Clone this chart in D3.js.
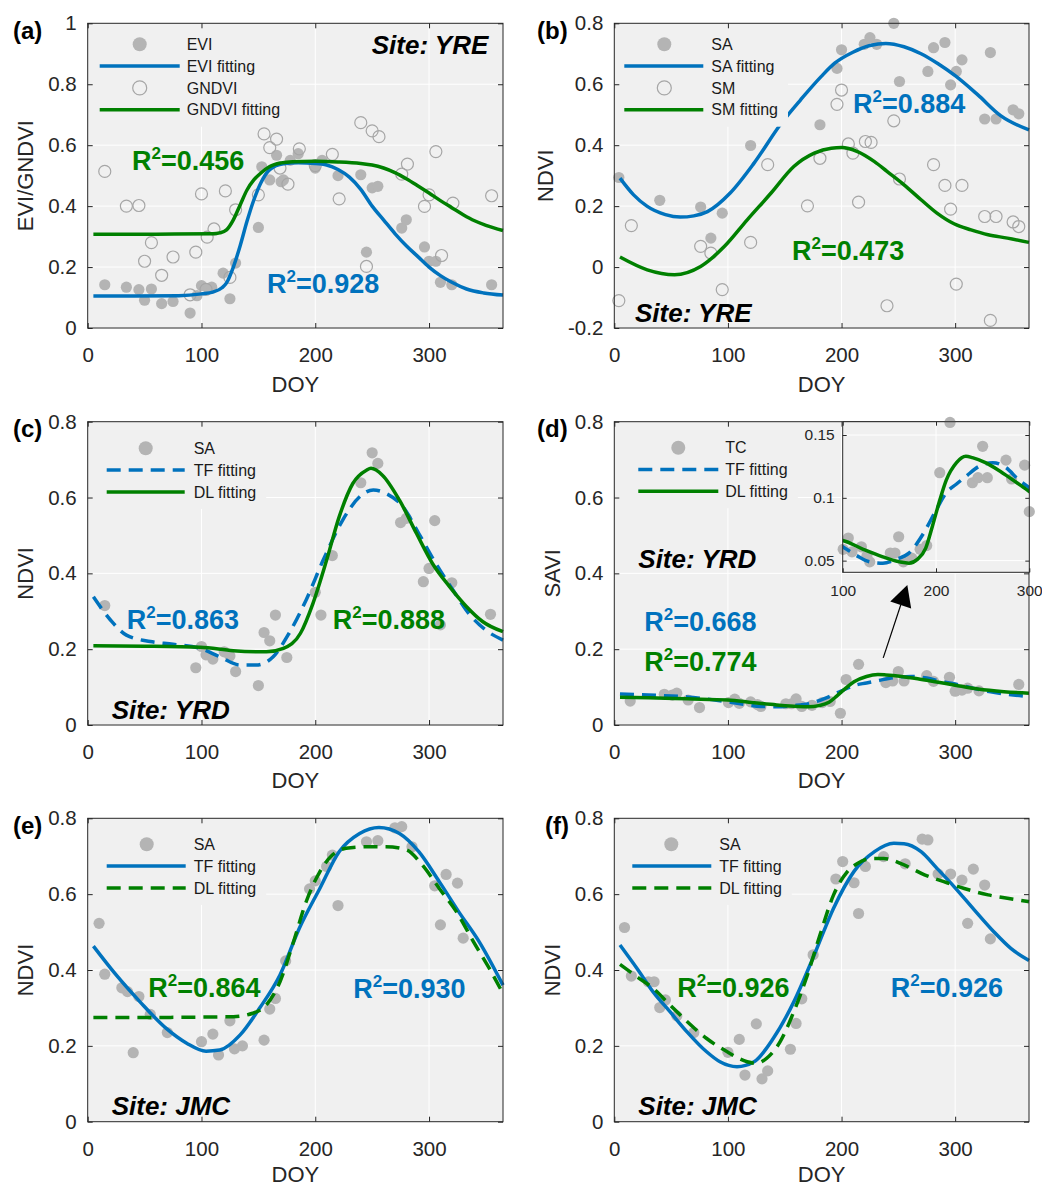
<!DOCTYPE html>
<html><head><meta charset="utf-8">
<script src="https://cdn.jsdelivr.net/npm/d3@7"></script>
<style>
body{margin:0;background:#fff}
svg text{font-family:"Liberation Sans",Arial,Helvetica,sans-serif}
</style>
</head><body>
<svg id="chart" width="1042" height="1188"></svg>
<script>
// ---------------- DATA ----------------
const doyTicks = [0,100,200,300];
const yTicksA = [0,0.2,0.4,0.6,0.8,1];
const yTicksB = [-0.2,0,0.2,0.4,0.6,0.8];
const yTicks08 = [0,0.2,0.4,0.6,0.8];
const insetXTicks = [100,200,300];
const insetYTicks = [0.05,0.1,0.15];

// (a) Site YRE: EVI & GNDVI
const eviA = [[15,0.142],[34,0.134],[45,0.126],[50,0.091],[56,0.128],[65,0.080],[75,0.087],[90,0.049],[96,0.106],[100,0.139],[106,0.13],[109,0.134],[119,0.18],[125,0.096],[130,0.213],[150,0.33],[153,0.529],[160,0.486],[166,0.567],[170,0.48],[172,0.486],[178,0.55],[185,0.572],[200,0.525],[206,0.55],[220,0.5],[240,0.503],[245,0.249],[250,0.46],[255,0.465],[276,0.328],[280,0.355],[296,0.266],[300,0.219],[306,0.219],[310,0.15],[320,0.142],[355,0.142]];
const gndviA = [[15,0.514],[34,0.40],[45,0.402],[50,0.219],[56,0.28],[65,0.173],[75,0.233],[90,0.109],[95,0.249],[100,0.44],[104,0.127],[105,0.298],[111,0.325],[121,0.45],[125,0.166],[130,0.388],[150,0.437],[155,0.637],[160,0.592],[166,0.62],[169,0.525],[176,0.472],[186,0.588],[200,0.533],[215,0.57],[221,0.424],[240,0.674],[245,0.202],[250,0.647],[256,0.628],[276,0.505],[281,0.538],[296,0.399],[300,0.437],[306,0.579],[311,0.238],[321,0.41],[355,0.434]];
const eviFitA = [[5,0.105],[40,0.105],[80,0.106],[100,0.112],[110,0.118],[118,0.132],[122,0.148],[128,0.2],[134,0.27],[140,0.35],[146,0.42],[152,0.475],[160,0.52],[172,0.539],[185,0.542],[200,0.54],[210,0.535],[220,0.52],[230,0.495],[240,0.455],[250,0.40],[260,0.355],[270,0.31],[280,0.27],[290,0.235],[300,0.20],[310,0.172],[320,0.15],[333,0.128],[348,0.115],[365,0.108]];
const gndviFitA = [[5,0.308],[60,0.308],[110,0.309],[116,0.312],[122,0.322],[128,0.355],[134,0.404],[140,0.453],[146,0.486],[152,0.508],[160,0.53],[170,0.542],[180,0.546],[200,0.547],[220,0.545],[240,0.54],[250,0.535],[260,0.525],[270,0.51],[280,0.49],[290,0.467],[300,0.443],[310,0.418],[320,0.395],[330,0.372],[340,0.352],[350,0.337],[365,0.32]];
const r2A = ["0.456","0.928"];

// (b) Site YRE: SA & SM NDVI
const saB = [[4,0.294],[40,0.219],[76,0.197],[85,0.095],[95,0.177],[120,0.399],[181,0.467],[196,0.652],[200,0.713],[220,0.731],[225,0.753],[231,0.731],[246,0.80],[251,0.609],[276,0.642],[281,0.72],[291,0.737],[296,0.598],[301,0.642],[306,0.68],[326,0.486],[331,0.704],[336,0.486],[351,0.516],[356,0.503]];
const smB = [[4,-0.110],[15,0.136],[76,0.068],[85,0.046],[95,-0.074],[120,0.081],[135,0.336],[170,0.201],[181,0.357],[196,0.534],[200,0.581],[206,0.404],[210,0.374],[215,0.213],[221,0.412],[226,0.409],[240,-0.127],[246,0.48],[251,0.289],[281,0.336],[291,0.268],[296,0.19],[301,-0.056],[306,0.268],[326,0.166],[331,-0.175],[336,0.166],[351,0.148],[356,0.133]];
const saFitB = [[5,0.292],[17,0.237],[29,0.199],[45,0.172],[58,0.164],[70,0.168],[82,0.182],[102,0.243],[123,0.341],[147,0.472],[164,0.549],[182,0.625],[194,0.669],[210,0.705],[225,0.727],[239,0.734],[255,0.723],[270,0.7],[285,0.667],[300,0.628],[320,0.565],[340,0.497],[365,0.45]];
const smFitB = [[5,0.033],[29,-0.009],[53,-0.025],[76,0.002],[97,0.068],[117,0.155],[138,0.243],[158,0.33],[176,0.374],[191,0.39],[200,0.392],[214,0.379],[229,0.346],[240,0.314],[255,0.27],[270,0.221],[284,0.177],[299,0.142],[314,0.122],[329,0.106],[346,0.095],[365,0.081]];
const r2B = ["0.884","0.473"];

// (c) Site YRD: SA NDVI
const saC = [[15,0.315],[95,0.151],[100,0.207],[104,0.185],[110,0.174],[120,0.193],[125,0.182],[130,0.141],[150,0.104],[155,0.244],[160,0.222],[165,0.29],[175,0.178],[200,0.35],[205,0.29],[215,0.447],[240,0.639],[250,0.718],[255,0.69],[275,0.534],[280,0.545],[295,0.378],[300,0.413],[305,0.539],[310,0.264],[320,0.375],[354,0.292]];
const tfFitC = [[5,0.338],[20,0.277],[34,0.237],[55,0.22],[75,0.213],[99,0.202],[116,0.18],[134,0.158],[148,0.158],[163,0.18],[177,0.242],[192,0.33],[207,0.435],[224,0.54],[239,0.602],[251,0.62],[262,0.611],[277,0.576],[291,0.505],[306,0.426],[321,0.356],[335,0.294],[350,0.25],[365,0.224]];
const dlFitC = [[5,0.209],[50,0.208],[99,0.205],[128,0.196],[157,0.193],[172,0.202],[187,0.242],[198,0.321],[210,0.435],[221,0.549],[233,0.637],[245,0.672],[249,0.677],[259,0.659],[274,0.593],[289,0.505],[303,0.426],[318,0.365],[333,0.312],[347,0.273],[365,0.246]];
const r2C = ["0.863","0.888"];

// (d) Site YRD: TC SAVI
const tcD = [[14,0.063],[44,0.081],[51,0.079],[55,0.084],[65,0.066],[75,0.046],[100.5,0.059],[106,0.068],[110,0.057],[120,0.061],[126,0.054],[129,0.049],[151,0.056],[156,0.056],[160,0.069],[165,0.049],[174,0.052],[183,0.059],[190,0.062],[199,0.031],[204,0.120],[215,0.160],[239,0.112],[245,0.116],[250,0.141],[255,0.116],[275,0.130],[281,0.115],[295,0.126],[300,0.089],[306,0.092],[311,0.097],[321,0.09],[356,0.107]];
const tfFitD = [[5,0.082],[30,0.079],[64,0.074],[100,0.061],[115,0.054],[129,0.049],[143,0.048],[157,0.051],[171,0.056],[186,0.071],[200,0.09],[211,0.104],[222,0.111],[232,0.117],[246,0.125],[261,0.128],[275,0.124],[289,0.114],[300,0.108],[330,0.088],[365,0.075]];
const dlFitD = [[5,0.073],[30,0.072],[64,0.069],[100,0.066],[122,0.059],[143,0.053],[161,0.049],[171,0.048],[180,0.051],[189,0.06],[196,0.077],[204,0.098],[211,0.114],[222,0.128],[232,0.133],[239,0.132],[253,0.128],[267,0.122],[281,0.115],[300,0.105],[320,0.095],[343,0.088],[365,0.084]];
const r2D = ["0.668","0.774"];

// (e) Site JMC: SA NDVI
const saE = [[10,0.523],[15,0.389],[30,0.353],[35,0.343],[40,0.182],[45,0.33],[55,0.283],[70,0.235],[100,0.211],[110,0.231],[115,0.176],[125,0.266],[129,0.192],[136,0.2],[155,0.215],[160,0.297],[165,0.325],[174,0.424],[195,0.614],[200,0.635],[210,0.673],[215,0.703],[220,0.57],[245,0.738],[255,0.741],[270,0.775],[276,0.778],[285,0.725],[305,0.622],[310,0.519],[315,0.652],[325,0.629],[330,0.484]];
const tfFitE = [[5,0.463],[25,0.387],[46,0.316],[69,0.246],[87,0.207],[104,0.186],[116,0.189],[134,0.229],[151,0.299],[169,0.387],[186,0.51],[204,0.615],[221,0.712],[239,0.76],[256,0.776],[274,0.76],[291,0.712],[309,0.633],[326,0.554],[344,0.475],[365,0.36]];
const dlFitE = [[5,0.275],[60,0.275],[128,0.277],[145,0.286],[157,0.308],[169,0.369],[180,0.466],[192,0.58],[204,0.659],[215,0.703],[227,0.721],[245,0.725],[262,0.725],[280,0.717],[294,0.677],[309,0.615],[324,0.554],[339,0.475],[353,0.404],[365,0.338]];
const r2E = ["0.864","0.930"];

// (f) Site JMC: SA NDVI
const saF = [[9,0.512],[15,0.384],[30,0.369],[35,0.369],[40,0.301],[45,0.321],[55,0.279],[70,0.235],[100,0.183],[110,0.217],[115,0.123],[125,0.258],[130,0.113],[135,0.134],[155,0.191],[160,0.259],[165,0.324],[175,0.44],[195,0.64],[201,0.686],[211,0.63],[215,0.549],[221,0.673],[237,0.699],[256,0.68],[271,0.745],[276,0.743],[285,0.653],[296,0.653],[306,0.637],[311,0.523],[316,0.666],[326,0.624],[331,0.482]];
const tfFitF = [[5,0.466],[20,0.404],[34,0.343],[49,0.29],[64,0.237],[81,0.185],[93,0.158],[108,0.145],[123,0.158],[140,0.22],[158,0.316],[176,0.44],[193,0.563],[211,0.66],[229,0.712],[246,0.734],[255,0.733],[270,0.712],[284,0.668],[299,0.62],[317,0.558],[334,0.501],[349,0.457],[365,0.425]];
const dlFitF = [[5,0.415],[20,0.382],[34,0.352],[49,0.308],[64,0.264],[81,0.22],[99,0.185],[117,0.158],[125,0.154],[134,0.167],[146,0.211],[158,0.29],[170,0.387],[181,0.492],[193,0.598],[205,0.659],[214,0.681],[226,0.694],[237,0.694],[255,0.677],[273,0.651],[290,0.633],[308,0.615],[329,0.598],[346,0.589],[365,0.58]];
const r2F = ["0.926","0.926"];

// ---------------- STYLE ----------------
const C = {bg:"#f0f0f0", grid:"#ffffff", axis:"#262626", blue:"#0072bd", green:"#008000",
           dot:"#b4b4b4", ring:"#a6a6a6", text:"#1a1a1a"};
const DASH = "14,8";
const svg = d3.select("#chart");
const fmt = d => String(Math.round(d*100)/100);

const L = {x0:87.7, x1:503}, R = {x0:614.3, x1:1029};
const ROW = [{y0:23.3,y1:328,xt:63.5},{y0:421.7,y1:725,xt:63},{y0:818.3,y1:1121.7,xt:60.5}];

const panels = [
 {col:L,row:ROW[0],yDomain:[0,1],yTicks:yTicksA,yTitle:"EVI/GNDVI",yTitleX:25,tag:"(a)",tagX:13,tagY:39,
  pts:[{d:eviA,t:"dot"},{d:gndviA,t:"ring"}],
  fits:[{d:eviFitA,c:C.blue},{d:gndviFitA,c:C.green}],
  leg:{first:21,items:[{t:"dot",l:"EVI"},{t:"line",c:C.blue,l:"EVI fitting"},{t:"ring",l:"GNDVI"},{t:"line",c:C.green,l:"GNDVI fitting"}],mx:52,lx:[12,92],tx:99},
  site:{s:"Site: YRE",x:488.3,y:54.3,a:"end"},
  r2:[{v:r2A[0],c:C.green,x:132,y:170},{v:r2A[1],c:C.blue,x:267,y:293}]},
 {col:R,row:ROW[0],yDomain:[-0.2,0.8],yTicks:yTicksB,yTitle:"NDVI",yTitleX:545,tag:"(b)",tagX:537,tagY:39,
  pts:[{d:saB,t:"dot"},{d:smB,t:"ring"}],
  fits:[{d:saFitB,c:C.blue},{d:smFitB,c:C.green}],
  leg:{first:21,items:[{t:"dot",l:"SA"},{t:"line",c:C.blue,l:"SA fitting"},{t:"ring",l:"SM"},{t:"line",c:C.green,l:"SM fitting"}],mx:50,lx:[10,89],tx:97},
  site:{s:"Site: YRE",x:635,y:321.7,a:"start"},
  r2:[{v:r2B[0],c:C.blue,x:853,y:113},{v:r2B[1],c:C.green,x:792,y:260}]},
 {col:L,row:ROW[1],yDomain:[0,0.8],yTicks:yTicks08,yTitle:"NDVI",yTitleX:25,tag:"(c)",tagX:13,tagY:437,
  pts:[{d:saC,t:"dot"}],
  fits:[{d:tfFitC,c:C.blue,dash:true},{d:dlFitC,c:C.green}],
  leg:{first:26.6,items:[{t:"dot",l:"SA"},{t:"line",c:C.blue,dash:true,l:"TF fitting"},{t:"line",c:C.green,l:"DL fitting"}],mx:58,lx:[19,97],tx:106},
  site:{s:"Site: YRD",x:111.7,y:719,a:"start"},
  r2:[{v:r2C[0],c:C.blue,x:126.7,y:629.3},{v:r2C[1],c:C.green,x:332.7,y:629.3}]},
 {col:R,row:ROW[1],yDomain:[0,0.8],yTicks:yTicks08,yTitle:"SAVI",yTitleX:552,tag:"(d)",tagX:537,tagY:437,
  pts:[{d:tcD,t:"dot"}],
  fits:[{d:tfFitD,c:C.blue,dash:true},{d:dlFitD,c:C.green}],
  leg:{first:26,items:[{t:"dot",l:"TC"},{t:"line",c:C.blue,dash:true,l:"TF fitting"},{t:"line",c:C.green,l:"DL fitting"}],mx:64,lx:[24,104],tx:111},
  site:{s:"Site: YRD",x:638.3,y:568.3,a:"start"},
  r2:[{v:r2D[0],c:C.blue,x:644.3,y:631},{v:r2D[1],c:C.green,x:644.3,y:670.7}],
  inset:true},
 {col:L,row:ROW[2],yDomain:[0,0.8],yTicks:yTicks08,yTitle:"NDVI",yTitleX:25,tag:"(e)",tagX:13,tagY:834,
  pts:[{d:saE,t:"dot"}],
  fits:[{d:tfFitE,c:C.blue},{d:dlFitE,c:C.green,dash:true}],
  leg:{first:26,items:[{t:"dot",l:"SA"},{t:"line",c:C.blue,l:"TF fitting"},{t:"line",c:C.green,dash:true,l:"DL fitting"}],mx:59,lx:[19,98],tx:106},
  site:{s:"Site: JMC",x:111.7,y:1115,a:"start"},
  r2:[{v:r2E[0],c:C.green,x:148.3,y:996.7},{v:r2E[1],c:C.blue,x:353.3,y:998.3}]},
 {col:R,row:ROW[2],yDomain:[0,0.8],yTicks:yTicks08,yTitle:"NDVI",yTitleX:552,tag:"(f)",tagX:545,tagY:834,
  pts:[{d:saF,t:"dot"}],
  fits:[{d:tfFitF,c:C.blue},{d:dlFitF,c:C.green,dash:true}],
  leg:{first:26,items:[{t:"dot",l:"SA"},{t:"line",c:C.blue,l:"TF fitting"},{t:"line",c:C.green,dash:true,l:"DL fitting"}],mx:57,lx:[18,97],tx:105},
  site:{s:"Site: JMC",x:638.3,y:1115,a:"start"},
  r2:[{v:r2F[0],c:C.green,x:677.3,y:997.3},{v:r2F[1],c:C.blue,x:890.7,y:997.3}]}
];

const lineGen = (x,y) => d3.line().x(d=>x(d[0])).y(d=>y(d[1])).curve(d3.curveMonotoneX);

function drawPoints(g, data, type, x, y, r){
  g.append("g").selectAll("circle").data(data).join("circle")
    .attr("cx",d=>x(d[0])).attr("cy",d=>y(d[1])).attr("r",r)
    .attr("fill", type==="dot" ? C.dot : "none")
    .attr("stroke", type==="dot" ? "none" : C.ring)
    .attr("stroke-width",1.2);
}

function drawAxes(g, x, y, xt, yt, x0,x1,y0,y1, fs, pad, tl){
  const st = sel => { sel.select(".domain").remove();
    sel.selectAll("line").attr("stroke",C.axis);
    sel.selectAll("text").attr("fill",C.axis).style("font-size",fs+"px"); };
  g.append("g").attr("transform",`translate(0,${y1})`)
    .call(d3.axisBottom(x).tickValues(xt).tickSize(-tl).tickSizeOuter(0).tickPadding(pad[0]).tickFormat(d=>d)).call(st);
  g.append("g").attr("transform",`translate(0,${y0})`)
    .call(d3.axisTop(x).tickValues(xt).tickSize(-tl).tickSizeOuter(0).tickFormat("")).call(st);
  g.append("g").attr("transform",`translate(${x0},0)`)
    .call(d3.axisLeft(y).tickValues(yt).tickSize(-tl).tickSizeOuter(0).tickPadding(pad[1]).tickFormat(fmt)).call(st);
  g.append("g").attr("transform",`translate(${x1},0)`)
    .call(d3.axisRight(y).tickValues(yt).tickSize(-tl).tickSizeOuter(0).tickFormat("")).call(st);
  g.append("rect").attr("x",x0).attr("y",y0).attr("width",x1-x0).attr("height",y1-y0)
    .attr("fill","none").attr("stroke",C.axis).attr("stroke-width",1);
}

function drawBackground(g, x, y, xt, yt, x0,x1,y0,y1){
  g.append("rect").attr("x",x0).attr("y",y0).attr("width",x1-x0).attr("height",y1-y0).attr("fill",C.bg);
  g.append("g").selectAll("line").data(xt).join("line")
    .attr("x1",d=>x(d)).attr("x2",d=>x(d)).attr("y1",y0).attr("y2",y1)
    .attr("stroke",C.grid).attr("stroke-width",1);
  g.append("g").selectAll("line").data(yt).join("line")
    .attr("x1",x0).attr("x2",x1).attr("y1",d=>y(d)).attr("y2",d=>y(d))
    .attr("stroke",C.grid).attr("stroke-width",1);
}

function r2Text(g, o){
  const t = g.append("text").attr("x",o.x).attr("y",o.y).attr("fill",o.c)
    .style("font-size","27px").style("font-weight","bold");
  t.append("tspan").text("R");
  t.append("tspan").text("2").attr("dy",-11).style("font-size","17px");
  t.append("tspan").text("="+o.v).attr("dy",11);
}

panels.forEach((p,i)=>{
  const x0=p.col.x0, x1=p.col.x1, y0=p.row.y0, y1=p.row.y1;
  const x = d3.scaleLinear().domain([0,365]).range([x0,x1]);
  const y = d3.scaleLinear().domain(p.yDomain).range([y1,y0]);
  const g = svg.append("g");
  drawBackground(g,x,y,doyTicks,p.yTicks,x0,x1,y0,y1);

  p.pts.forEach(s=>drawPoints(g,s.d,s.t,x,y,s.t==="dot"?5.6:6));
  const lg = lineGen(x,y);
  p.fits.forEach(f=>{
    g.append("path").datum(f.d).attr("d",lg).attr("fill","none").attr("stroke",f.c)
      .attr("stroke-width",3.5).attr("stroke-dasharray",f.dash?DASH:null);
  });

  // legend (opaque box with axes colour)
  const legBox = g.append("rect").attr("fill",C.bg);
  const lgG = g.append("g");
  let maxR = 0;
  p.leg.items.forEach((it,k)=>{
    const cy = y0 + p.leg.first + k*21.8;
    if(it.t==="dot"||it.t==="ring"){
      lgG.append("circle").attr("cx",x0+p.leg.mx).attr("cy",cy).attr("r",7)
        .attr("fill",it.t==="dot"?C.dot:"none").attr("stroke",it.t==="dot"?"none":C.ring).attr("stroke-width",1.2);
    } else {
      lgG.append("line").attr("x1",x0+p.leg.lx[0]).attr("x2",x0+p.leg.lx[1]).attr("y1",cy).attr("y2",cy)
        .attr("stroke",it.c).attr("stroke-width",3.5).attr("stroke-dasharray",it.dash?DASH:null);
    }
    const t = lgG.append("text").attr("x",x0+p.leg.tx).attr("y",cy).attr("dy","0.35em")
      .attr("fill",C.text).style("font-size","16px").text(it.l);
    const b = t.node().getBBox(); maxR = Math.max(maxR, b.x+b.width);
  });
  const lastY = y0 + p.leg.first + (p.leg.items.length-1)*21.8;
  legBox.attr("x",x0+1).attr("y",y0+1).attr("width",maxR+9-x0).attr("height",lastY+16-y0);

  // texts
  g.append("text").attr("x",p.site.x).attr("y",p.site.y).attr("text-anchor",p.site.a)
    .attr("fill","#000").style("font-size","26px").style("font-weight","bold").style("font-style","italic").text(p.site.s);
  p.r2.forEach(o=>r2Text(g,o));

  drawAxes(g,x,y,doyTicks,p.yTicks,x0,x1,y0,y1,20.5,[19.5,11],5);

  // axis titles
  g.append("text").attr("x",(x0+x1)/2).attr("y",y1+p.row.xt).attr("text-anchor","middle")
    .attr("fill",C.axis).style("font-size","22px").text("DOY");
  g.append("text").attr("transform",`translate(${p.yTitleX},${(y0+y1)/2}) rotate(-90)`)
    .attr("text-anchor","middle").attr("dy","0.35em")
    .attr("fill",C.axis).style("font-size","22px").text(p.yTitle);
  g.append("text").attr("x",p.tagX).attr("y",p.tagY).attr("fill","#000")
    .style("font-size","24px").style("font-weight","bold").text(p.tag);

  if(p.inset){
    // arrow from curve to inset
    const s = [x(236.7), y(0.177)], tp = [x(257.9), y(0.369)];
    const dx = tp[0]-s[0], dy = tp[1]-s[1], len = Math.hypot(dx,dy);
    const ux = dx/len, uy = dy/len, hl = 21, hw = 11;
    const bx = tp[0]-ux*hl, by = tp[1]-uy*hl;
    g.append("line").attr("x1",s[0]).attr("y1",s[1]).attr("x2",bx).attr("y2",by)
      .attr("stroke","#000").attr("stroke-width",1.2);
    g.append("path").attr("d",`M${tp[0]},${tp[1]}L${bx-uy*hw},${by+ux*hw}L${bx+uy*hw},${by-ux*hw}Z`).attr("fill","#000");

    const ix0=842.7, ix1=1029.3, iy0=421.7, iy1=572.3;
    const ixs = d3.scaleLinear().domain([100,300]).range([ix0,ix1]);
    const iys = d3.scaleLinear().domain([0.0407,0.1606]).range([iy1,iy0]);
    const ig = svg.append("g");
    drawBackground(ig,ixs,iys,insetXTicks,insetYTicks,ix0,ix1,iy0,iy1);
    ig.append("clipPath").attr("id","insetClip").append("rect")
      .attr("x",ix0).attr("y",iy0).attr("width",ix1-ix0).attr("height",iy1-iy0);
    const inPts = tcD.filter(d=>d[0]>=99 && d[0]<=301 && d[1]>=0.0407 && d[1]<=0.1615);
    drawPoints(ig,inPts,"dot",ixs,iys,5.6);
    const ilg = lineGen(ixs,iys);
    const cg = ig.append("g").attr("clip-path","url(#insetClip)");
    p.fits.forEach(f=>{
      cg.append("path").datum(f.d).attr("d",ilg).attr("fill","none").attr("stroke",f.c)
        .attr("stroke-width",3.5).attr("stroke-dasharray",f.dash?DASH:null);
    });
    drawAxes(ig,ixs,iys,insetXTicks,insetYTicks,ix0,ix1,iy0,iy1,15.5,[13,8],4);
  }
});
</script>
</body></html>
